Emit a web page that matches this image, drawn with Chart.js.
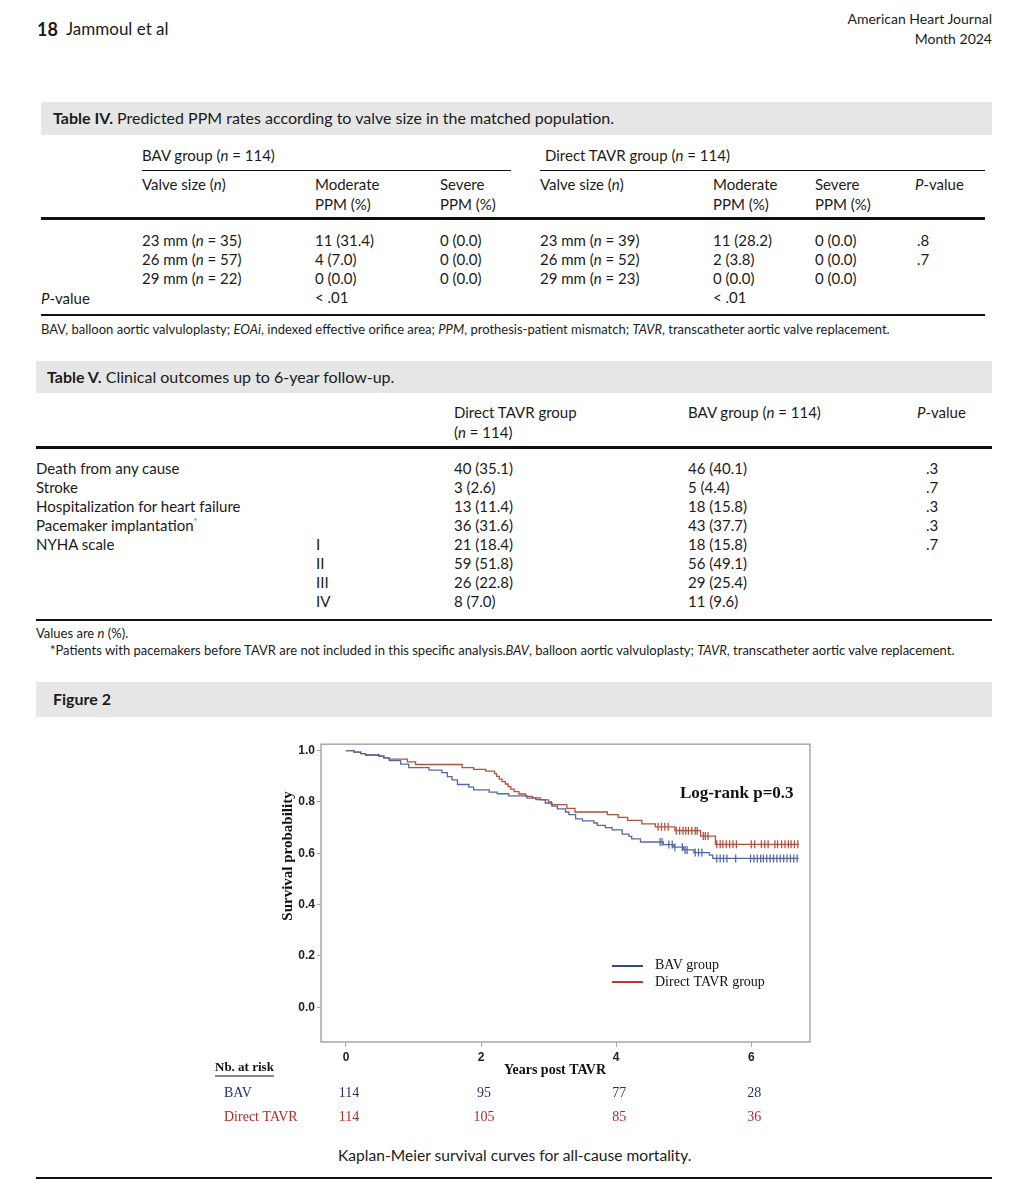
<!DOCTYPE html>
<html>
<head>
<meta charset="utf-8">
<script src="https://cdn.jsdelivr.net/npm/chart.js@4.4.1/dist/chart.umd.min.js"></script>
<style>
body{margin:0;background:#fff;width:1029px;height:1200px;position:relative;font-family:Lato,"Open Sans",sans-serif;color:#1b1b1b;overflow:hidden;}
.t{position:absolute;white-space:nowrap;line-height:20px;font-size:15px;}
.s{font-size:13px;}
.b{font-weight:bold;}
.band{position:absolute;background:#e6e6e6;}
.rule{position:absolute;background:#111;}
#wrap{position:absolute;left:200px;top:735px;width:630px;height:410px;}
sup{color:#3a7fb8;font-size:9px;line-height:0;vertical-align:6px;}
</style>
</head>
<body>
<!-- header -->
<div class="t b" style="left:37px;top:19px;font-size:18px;">18</div>
<div class="t" style="left:66px;top:19px;font-size:17px;">Jammoul et al</div>
<div class="t" style="right:37px;top:9px;font-size:14px;">American Heart Journal</div>
<div class="t" style="right:37px;top:29px;font-size:14px;">Month 2024</div>

<!-- Table IV -->
<div class="band" style="left:41px;top:102px;width:951px;height:33px;"></div>
<div class="t" style="left:53px;top:108px;font-size:16px;"><b>Table IV.</b> Predicted PPM rates according to valve size in the matched population.</div>
<div class="t" style="left:142px;top:145px;">BAV group (<i>n</i> = 114)</div>
<div class="rule" style="left:142px;top:170px;width:369px;height:1px;"></div>
<div class="t" style="left:545px;top:145px;">Direct TAVR group (<i>n</i> = 114)</div>
<div class="rule" style="left:540px;top:170px;width:445px;height:1px;"></div>
<div class="t" style="left:142px;top:174px;">Valve size (<i>n</i>)</div>
<div class="t" style="left:315px;top:174px;">Moderate<br>PPM (%)</div>
<div class="t" style="left:440px;top:174px;">Severe<br>PPM (%)</div>
<div class="t" style="left:540px;top:174px;">Valve size (<i>n</i>)</div>
<div class="t" style="left:713px;top:174px;">Moderate<br>PPM (%)</div>
<div class="t" style="left:815px;top:174px;">Severe<br>PPM (%)</div>
<div class="t" style="left:915px;top:174px;"><i>P</i>-value</div>
<div class="rule" style="left:41px;top:217px;width:944px;height:3px;"></div>
<div class="t" style="left:142px;top:231px;line-height:19px;">23 mm (<i>n</i> = 35)<br>26 mm (<i>n</i> = 57)<br>29 mm (<i>n</i> = 22)</div>
<div class="t" style="left:315px;top:231px;line-height:19px;">11 (31.4)<br>4 (7.0)<br>0 (0.0)<br>&lt; .01</div>
<div class="t" style="left:440px;top:231px;line-height:19px;">0 (0.0)<br>0 (0.0)<br>0 (0.0)</div>
<div class="t" style="left:540px;top:231px;line-height:19px;">23 mm (<i>n</i> = 39)<br>26 mm (<i>n</i> = 52)<br>29 mm (<i>n</i> = 23)</div>
<div class="t" style="left:713px;top:231px;line-height:19px;">11 (28.2)<br>2 (3.8)<br>0 (0.0)<br>&lt; .01</div>
<div class="t" style="left:815px;top:231px;line-height:19px;">0 (0.0)<br>0 (0.0)<br>0 (0.0)</div>
<div class="t" style="left:917px;top:231px;line-height:19px;">.8<br>.7</div>
<div class="t" style="left:41px;top:288px;"><i>P</i>-value</div>
<div class="rule" style="left:41px;top:314px;width:944px;height:2px;"></div>
<div class="t s" style="left:41px;top:319px;">BAV, balloon aortic valvuloplasty; <i>EOAi</i>, indexed effective orifice area; <i>PPM</i>, prothesis-patient mismatch; <i>TAVR</i>, transcatheter aortic valve replacement.</div>

<!-- Table V -->
<div class="band" style="left:36px;top:361px;width:956px;height:32px;"></div>
<div class="t" style="left:47px;top:367px;font-size:16px;"><b>Table V.</b> Clinical outcomes up to 6-year follow-up.</div>
<div class="t" style="left:454px;top:402px;">Direct TAVR group<br>(<i>n</i> = 114)</div>
<div class="t" style="left:688px;top:402px;">BAV group (<i>n</i> = 114)</div>
<div class="t" style="left:917px;top:402px;"><i>P</i>-value</div>
<div class="rule" style="left:36px;top:446px;width:956px;height:3px;"></div>
<div class="t" style="left:36px;top:459px;line-height:19px;">Death from any cause<br>Stroke<br>Hospitalization for heart failure<br>Pacemaker implantation<sup>*</sup><br>NYHA scale</div>
<div class="t" style="left:316px;top:535px;line-height:19px;">I<br>II<br>III<br>IV</div>
<div class="t" style="left:454px;top:459px;line-height:19px;">40 (35.1)<br>3 (2.6)<br>13 (11.4)<br>36 (31.6)<br>21 (18.4)<br>59 (51.8)<br>26 (22.8)<br>8 (7.0)</div>
<div class="t" style="left:688px;top:459px;line-height:19px;">46 (40.1)<br>5 (4.4)<br>18 (15.8)<br>43 (37.7)<br>18 (15.8)<br>56 (49.1)<br>29 (25.4)<br>11 (9.6)</div>
<div class="t" style="left:926px;top:459px;line-height:19px;">.3<br>.7<br>.3<br>.3<br>.7</div>
<div class="rule" style="left:36px;top:619px;width:956px;height:2px;"></div>
<div class="t s" style="left:36px;top:623px;">Values are <i>n</i> (%).</div>
<div class="t s" style="left:50px;top:640px;">*Patients with pacemakers before TAVR are not included in this specific analysis.<i>BAV</i>, balloon aortic valvuloplasty; <i>TAVR</i>, transcatheter aortic valve replacement.</div>

<!-- Figure 2 -->
<div class="band" style="left:36px;top:682px;width:956px;height:35px;"></div>
<div class="t b" style="left:53px;top:689px;font-size:16px;">Figure 2</div>
<div id="wrap"><canvas id="km" width="630" height="410"></canvas></div>
<div class="t" style="left:338px;top:1145px;font-size:15.6px;">Kaplan-Meier survival curves for all-cause mortality.</div>
<div class="rule" style="left:36px;top:1177px;width:956px;height:2px;"></div>

<script>
// Direct TAVR group: event times (years) and survival after each step
var tavrTime = [0, 0.12, 0.22, 0.29, 0.49, 0.56, 0.64, 0.91, 1.03, 1.72, 1.89, 2.07, 2.20, 2.23, 2.27, 2.31, 2.36, 2.40, 2.44, 2.49, 2.56, 2.66, 2.76, 2.88, 3.00, 3.04, 3.27, 3.39, 3.87, 4.03, 4.17, 4.38, 4.58, 4.87, 5.25, 5.47, 6.70];
var tavrSurv = [1.0, 0.994, 0.988, 0.983, 0.978, 0.972, 0.967, 0.956, 0.946, 0.934, 0.927, 0.920, 0.910, 0.900, 0.889, 0.879, 0.870, 0.860, 0.850, 0.840, 0.831, 0.822, 0.816, 0.808, 0.800, 0.790, 0.775, 0.761, 0.751, 0.740, 0.728, 0.715, 0.703, 0.688, 0.667, 0.635, 0.635];
var tavrCensor = [4.62, 4.67, 4.72, 4.77, 4.89, 4.94, 4.99, 5.03, 5.07, 5.12, 5.17, 5.20, 5.29, 5.32, 5.36, 5.49, 5.54, 5.58, 5.63, 5.68, 5.73, 5.78, 6.00, 6.05, 6.15, 6.20, 6.25, 6.35, 6.39, 6.45, 6.50, 6.55, 6.59, 6.64, 6.69];

// BAV group
var bavTime = [0, 0.12, 0.22, 0.29, 0.49, 0.56, 0.64, 0.81, 0.93, 1.23, 1.42, 1.50, 1.57, 1.65, 1.82, 1.89, 2.12, 2.24, 2.41, 2.68, 2.81, 2.95, 3.05, 3.13, 3.25, 3.30, 3.40, 3.50, 3.67, 3.72, 3.84, 3.94, 4.09, 4.19, 4.23, 4.36, 4.70, 4.85, 5.00, 5.15, 5.38, 5.43, 6.70];
var bavSurv = [1.0, 0.994, 0.988, 0.983, 0.978, 0.972, 0.961, 0.947, 0.934, 0.924, 0.914, 0.899, 0.886, 0.868, 0.858, 0.847, 0.838, 0.832, 0.824, 0.815, 0.809, 0.796, 0.784, 0.773, 0.761, 0.751, 0.734, 0.726, 0.718, 0.709, 0.700, 0.691, 0.675, 0.666, 0.656, 0.644, 0.634, 0.624, 0.613, 0.603, 0.593, 0.580, 0.580];
var bavCensor = [4.65, 4.68, 4.78, 4.83, 4.87, 4.98, 5.02, 5.05, 5.17, 5.22, 5.27, 5.49, 5.54, 5.59, 5.64, 5.77, 5.99, 6.04, 6.09, 6.14, 6.18, 6.23, 6.28, 6.33, 6.38, 6.43, 6.48, 6.53, 6.58, 6.63, 6.68];

var xTicks = [0, 2, 4, 6];
var yTicks = [0, 0.2, 0.4, 0.6, 0.8, 1.0];
var riskBAV = [114, 95, 77, 28];
var riskTAVR = [114, 105, 85, 36];

var BLUE = "#5568a5", RED = "#b4503e";
var serif = '"Liberation Serif", "Times New Roman", serif';

function pairs(t, s) {
  return t.map(function(v, i) { return { x: v, y: s[i] }; });
}
function survAt(t, s, x) {
  var y = s[0];
  for (var i = 0; i < t.length; i++) {
    if (t[i] <= x) y = s[i];
  }
  return y;
}
function marks(c, t, s) {
  return c.map(function(v) { return { x: v, y: survAt(t, s, v) }; });
}

var decor = {
  id: "decor",
  afterDraw: function(chart) {
    var ctx = chart.ctx, a = chart.chartArea, xs = chart.scales.x;
    ctx.save();
    // frame
    ctx.strokeStyle = "#a8a8a8";
    ctx.lineWidth = 1.5;
    ctx.strokeRect(a.left, a.top, a.right - a.left, a.bottom - a.top);

    ctx.textBaseline = "middle";
    ctx.fillStyle = "#111";
    ctx.font = "bold 17px " + serif;
    ctx.textAlign = "left";
    ctx.fillText("Log-rank p=0.3", 480, 59);

    // axis titles
    ctx.font = "bold 15px " + serif;
    ctx.save();
    ctx.translate(88, 121);
    ctx.rotate(-Math.PI / 2);
    ctx.textAlign = "center";
    ctx.fillText("Survival probability", 0, 0);
    ctx.restore();
    ctx.font = "bold 14px " + serif;
    ctx.textAlign = "center";
    ctx.fillText("Years post TAVR", 355, 335);

    // legend
    ctx.textAlign = "left";
    ctx.font = "14px " + serif;
    ctx.lineWidth = 2;
    ctx.strokeStyle = "#2f4a8a";
    ctx.beginPath(); ctx.moveTo(412, 231); ctx.lineTo(443, 231); ctx.stroke();
    ctx.fillText("BAV group", 455, 230);
    ctx.strokeStyle = "#c0392b";
    ctx.beginPath(); ctx.moveTo(412, 247); ctx.lineTo(443, 247); ctx.stroke();
    ctx.fillText("Direct TAVR group", 455, 247);

    // numbers at risk
    ctx.font = "bold 13px " + serif;
    ctx.fillText("Nb. at risk", 15, 333);
    var w = ctx.measureText("Nb. at risk").width;
    ctx.lineWidth = 1;
    ctx.strokeStyle = "#111";
    ctx.beginPath(); ctx.moveTo(15, 341); ctx.lineTo(15 + w, 341); ctx.stroke();
    ctx.font = "14px " + serif;
    ctx.fillStyle = "#26306e";
    ctx.fillText("BAV", 24, 358);
    ctx.fillStyle = "#b02a2a";
    ctx.fillText("Direct TAVR", 24, 382);
    ctx.textAlign = "center";
    for (var i = 0; i < xTicks.length; i++) {
      var px = xs.getPixelForValue(xTicks[i]) + 3;
      ctx.fillStyle = "#26306e";
      ctx.fillText(String(riskBAV[i]), px, 358);
      ctx.fillStyle = "#b02a2a";
      ctx.fillText(String(riskTAVR[i]), px, 382);
    }
    ctx.restore();
  }
};

var ctxKM = document.getElementById("km").getContext("2d");
var kmChart = new Chart(ctxKM, {
  type: "line",
  data: {
    datasets: [
      {
        label: "BAV group",
        data: pairs(bavTime, bavSurv),
        borderColor: BLUE,
        borderWidth: 1.3,
        stepped: "before",
        pointRadius: 0,
        fill: false
      },
      {
        label: "Direct TAVR group",
        data: pairs(tavrTime, tavrSurv),
        borderColor: RED,
        borderWidth: 1.3,
        stepped: "before",
        pointRadius: 0,
        fill: false
      },
      {
        label: "BAV censored",
        data: marks(bavCensor, bavTime, bavSurv),
        showLine: false,
        pointStyle: "line",
        rotation: 90,
        pointRadius: 4,
        pointBorderWidth: 1.3,
        pointBorderColor: BLUE,
        borderColor: BLUE
      },
      {
        label: "Direct TAVR censored",
        data: marks(tavrCensor, tavrTime, tavrSurv),
        showLine: false,
        pointStyle: "line",
        rotation: 90,
        pointRadius: 4,
        pointBorderWidth: 1.3,
        pointBorderColor: RED,
        borderColor: RED
      }
    ]
  },
  options: {
    responsive: false,
    animation: false,
    layout: { padding: { left: 78, top: 8, right: 20, bottom: 0 } },
    plugins: { legend: { display: false }, tooltip: { enabled: false } },
    scales: {
      x: {
        type: "linear",
        min: -0.37,
        max: 6.87,
        afterBuildTicks: function(scale) {
          scale.ticks = xTicks.map(function(v) { return { value: v }; });
        },
        afterFit: function(scale) { scale.height = 103; },
        border: { display: false },
        grid: { drawOnChartArea: false, drawTicks: true, tickLength: 5, color: "#a8a8a8" },
        ticks: {
          padding: 3,
          maxRotation: 0,
          color: "#222",
          font: { family: "Liberation Sans", weight: "bold", size: 12 },
          callback: function(v) { return String(v); }
        }
      },
      y: {
        min: -0.135,
        max: 1.025,
        afterBuildTicks: function(scale) {
          scale.ticks = yTicks.map(function(v) { return { value: v }; });
        },
        afterFit: function(scale) { scale.width = 43; },
        border: { display: false },
        grid: { drawOnChartArea: false, drawTicks: true, tickLength: 4, color: "#a8a8a8" },
        ticks: {
          padding: 2,
          color: "#222",
          font: { family: "Liberation Sans", weight: "bold", size: 12 },
          callback: function(v) { return v.toFixed(1); }
        }
      }
    }
  },
  plugins: [decor]
});
</script>
</body>
</html>
